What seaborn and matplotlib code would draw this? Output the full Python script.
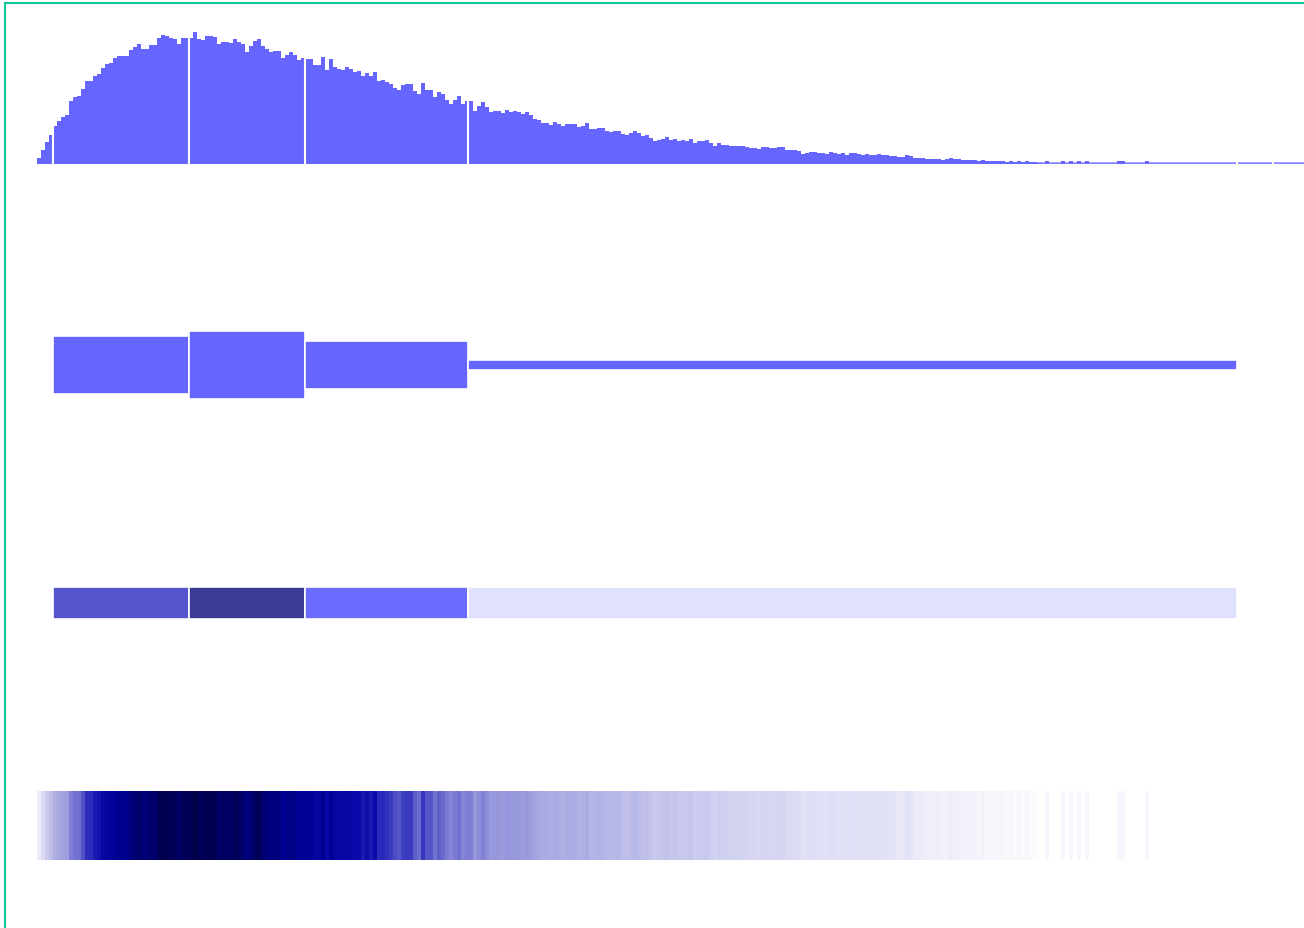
import numpy as np
import pandas as pd
import matplotlib
matplotlib.use('Agg')
import matplotlib.pyplot as plt
import seaborn as sns
from matplotlib.colors import LinearSegmentedColormap
from matplotlib.patches import Rectangle

# fine histogram: first edge, bin width, counts
bin_start = 37
bin_width = 4
counts = [
    6, 14, 22, 29, 38, 43, 47, 49, 63, 67, 68, 75, 83, 83, 88, 90, 96, 100, 101, 106,
    108, 108, 108, 114, 117, 120, 115, 115, 119, 119, 126, 129, 128, 126, 125, 120, 126, 126,
    126, 132, 125, 124, 128, 128, 127, 120, 122, 122, 121, 125, 122, 120, 112, 118, 123, 125,
    118, 115, 112, 113, 113, 106, 109, 112, 109, 104, 106, 105, 105, 99, 99, 107, 94, 105,
    97, 95, 94, 97,
    95, 92, 93, 88, 91, 88, 92, 83, 84, 82, 80, 76, 74, 79, 80, 80, 73, 70, 81, 74,
    74, 67, 72, 70, 64, 60, 64, 68, 60, 63, 63, 53, 58, 62, 57, 52, 53, 53, 51, 54,
    52, 53, 52, 50, 52, 49, 45, 44, 41, 41, 39, 42, 40, 38, 40, 40, 40, 37, 38, 41,
    35, 35, 36, 36, 33, 32, 33, 33, 30, 29, 31, 33, 31, 28, 29, 26, 23, 24, 25, 27,
    24, 25, 23, 24, 23, 25, 21, 23, 23, 24,
    21, 18, 21, 19, 19, 18, 18, 18, 18, 17, 16, 16, 15, 17, 17, 16, 16, 17, 17, 14,
    14, 14, 13, 10, 11, 12, 12, 11, 11, 10, 12, 11, 10, 11, 9,
    11, 11, 10, 9, 10, 9, 9, 10, 9, 9, 8, 8, 7, 7, 9, 8, 6, 6, 6, 5,
    5, 5, 5, 4, 5, 6, 5, 5, 4, 4, 4, 4, 3, 4, 3, 3, 3, 3, 3, 2,
    3, 2, 3, 2, 3, 2, 2, 1,
    0, 3, 0, 0, 0, 3, 0, 3, 0, 3, 0, 3, 0, 0, 0, 0, 0, 0, 0, 3,
    3, 0, 0, 0, 0, 0, 3, 0, 0, 0, 0, 0, 0, 0, 0, 0, 0, 0, 0, 0,
    0, 0, 0, 0, 0, 0, 0, 0, 0, 0, 0, 0, 0, 0, 0, 0, 0, 0, 0, 0,
    0, 0, 0, 0, 0, 0,
]

# quartile boundaries and the share of data in each segment
breaks = [53, 189, 305, 467.5, 1236.5]
shares = [0.25, 0.25, 0.25, 0.25]
extra_mark = 1273

W, H = 1304, 929
sns.set_style('white')
fig = plt.figure(figsize=(W / 100, H / 100), dpi=100)


def px_axes(left, top, width, height):
    ax = fig.add_axes([left / W, 1 - (top + height) / H, width / W, height / H])
    ax.set_facecolor('none')
    return ax


edges = bin_start + bin_width * np.arange(len(counts) + 1)
hist_df = pd.DataFrame({'x': edges[:-1] + bin_width / 2, 'count': counts})

# top: fine histogram
ax1 = px_axes(0, 5, W, 160)
sns.histplot(data=hist_df, x='x', weights='count', bins=list(edges),
             color='#6666FF', alpha=1, linewidth=0, ax=ax1)
ax1.hlines(1.2, edges[0], W, color='#8585FF', lw=1.8, zorder=0.5)
for b in breaks + [extra_mark]:
    ax1.axvline(b, color='white', lw=1.5, zorder=5)
ax1.set_xlim(0, W)
ax1.set_ylim(0, 160)
ax1.axis('off')

widths = np.diff(breaks)
density = np.array(shares) / widths

# boxes with height = density
ax2 = px_axes(0, 300, W, 132)
ax2.bar(breaks[:-1], density, width=widths, bottom=-density / 2, align='edge',
        color='#6666FF', edgecolor='white', linewidth=1.2)
ax2.set_xlim(0, W)
ax2.set_ylim(-0.0021, 0.0021)
ax2.axis('off')

# segments coloured by density
seg_cmap = LinearSegmentedColormap.from_list(
    'seg', [(0, '#FFFFFF'), (0.716, '#6B6BFF'), (1, '#3B3B96')])
ax3 = px_axes(0, 587.5, W, 32.5)
ax3.bar(breaks[:-1], np.ones(len(widths)), width=widths, align='edge',
        color=seg_cmap(density / density.max()), edgecolor='white', linewidth=1.2)
ax3.set_xlim(0, W)
ax3.set_ylim(0, 1)
ax3.axis('off')

# bottom strip: fine bins coloured by count
vmax = 135
anchors = [(0, '#FFFFFF'), (8, '#E4E4F7'), (30, '#BCBCE9'), (55, '#9494DB'),
           (70, '#6A6ACF'), (82, '#3030BC'), (92, '#0A0AAA'), (105, '#000096'),
           (115, '#00007A'), (125, '#000058'), (135, '#000040')]
strip_cmap = LinearSegmentedColormap.from_list(
    'strip', [(v / vmax, c) for v, c in anchors])
ax4 = px_axes(bin_start, 792, bin_width * len(counts), 69)
sns.heatmap(np.array([counts]), cmap=strip_cmap, vmin=0, vmax=vmax, cbar=False,
            xticklabels=False, yticklabels=False, ax=ax4)
ax4.axis('off')

fig.patches.append(Rectangle((4.5 / W, -0.1), 1.2, 1 - 3.5 / H + 0.1,
                             transform=fig.transFigure, fill=False,
                             edgecolor='#12C79A', lw=1.5))

fig.savefig('out.png', dpi=100)
